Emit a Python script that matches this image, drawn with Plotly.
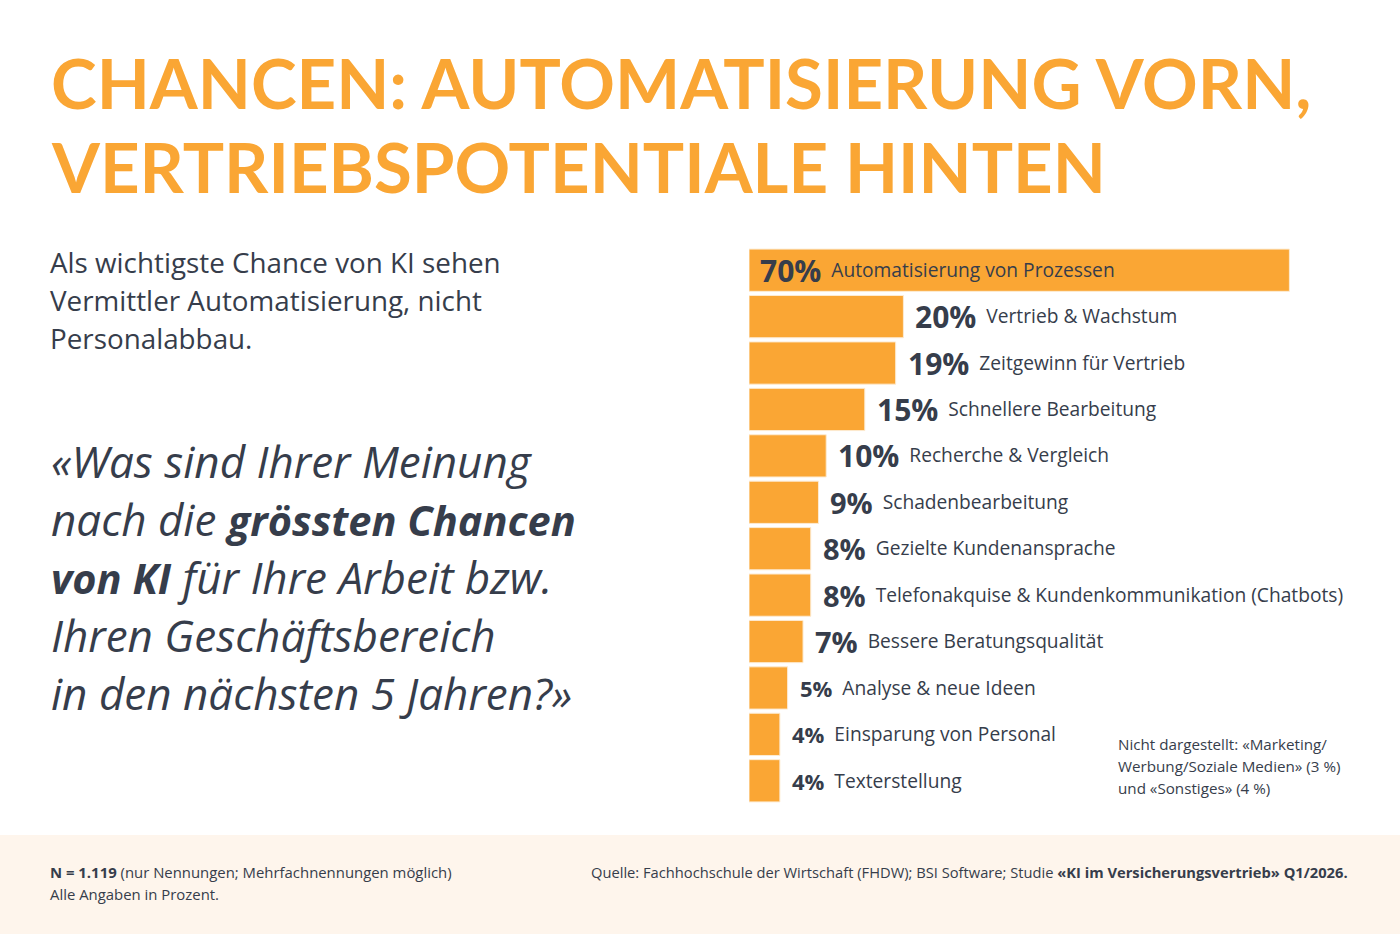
import plotly.graph_objects as go

# ---------------- data ----------------
categories = [
    "Automatisierung von Prozessen",
    "Vertrieb & Wachstum",
    "Zeitgewinn für Vertrieb",
    "Schnellere Bearbeitung",
    "Recherche & Vergleich",
    "Schadenbearbeitung",
    "Gezielte Kundenansprache",
    "Telefonakquise & Kundenkommunikation (Chatbots)",
    "Bessere Beratungsqualität",
    "Analyse & neue Ideen",
    "Einsparung von Personal",
    "Texterstellung",
]
values = [70, 20, 19, 15, 10, 9, 8, 8, 7, 5, 4, 4]

title_lines = ["CHANCEN: AUTOMATISIERUNG VORN,", "VERTRIEBSPOTENTIALE HINTEN"]
intro_lines = ["Als wichtigste Chance von KI sehen",
               "Vermittler Automatisierung, nicht",
               "Personalabbau."]
question_lines = ["«Was sind Ihrer Meinung",
                  "nach die <b>grössten Chancen</b>",
                  "<b>von KI</b> für Ihre Arbeit bzw.",
                  "Ihren Geschäftsbereich",
                  "in den nächsten 5 Jahren?»"]
note_lines = ["Nicht dargestellt: «Marketing/",
              "Werbung/Soziale Medien» (3 %)",
              "und «Sonstiges» (4 %)"]
footer_left = ["<b>N = 1.119</b> (nur Nennungen; Mehrfachnennungen möglich)",
               "Alle Angaben in Prozent."]
footer_right = "Quelle: Fachhochschule der Wirtschaft (FHDW); BSI Software; Studie <b>«KI im Versicherungsvertrieb» Q1/2026.</b>"

# ---------------- style ----------------
W, H = 1400, 934
ORANGE = "#FAA634"
DARK = "#363D4B"
TFONT = "Lato"
FONT = "Open Sans"

def py(px):
    return 1 - px / H

def px_x(px):
    return px / W

bar_left = 749
px_per_pct = 7.72
x_max = 80
bar_top, bar_bottom = 247, 804

fig = go.Figure()
fig.add_trace(go.Bar(
    x=values, y=categories, orientation="h",
    marker=dict(color=ORANGE, line=dict(color="#FDEBD2", width=1)),
    width=0.91, hoverinfo="skip",
))

fig.update_layout(
    width=W, height=H,
    margin=dict(l=0, r=0, t=0, b=0),
    paper_bgcolor="white", plot_bgcolor="rgba(0,0,0,0)",
    showlegend=False,
    font=dict(family=FONT, color=DARK),
    xaxis=dict(domain=[px_x(bar_left), px_x(bar_left + px_per_pct * x_max)],
               range=[0, x_max], visible=False, fixedrange=True),
    yaxis=dict(domain=[py(bar_bottom), py(bar_top)],
               autorange="reversed", visible=False, fixedrange=True,
               categoryorder="array", categoryarray=categories),
    bargap=0.09,
)

shapes = [dict(type="rect", xref="paper", yref="paper", x0=0, x1=1,
               y0=0, y1=py(835), fillcolor="#FEF5EC", line=dict(width=0),
               layer="below")]

ann = []
# title
for i, t in enumerate(title_lines):
    ann.append(dict(text=f"<b>{t}</b>", x=px_x(49), y=py(82 + 84 * i),
                    xref="paper", yref="paper", xanchor="left", yanchor="middle",
                    showarrow=False, font=dict(size=69, color=ORANGE, family=TFONT)))
# intro
for i, t in enumerate(intro_lines):
    ann.append(dict(text=t, x=px_x(48), y=py(262 + 38 * i),
                    xref="paper", yref="paper", xanchor="left", yanchor="middle",
                    showarrow=False, font=dict(size=27.8, color=DARK, family=FONT)))
# question
for i, t in enumerate(question_lines):
    t = t.replace("<b>", "<span style='font-size:41.5px'><b>").replace("</b>", "</b></span>")
    ann.append(dict(text=f"<i>{t}</i>", x=px_x(49), y=py(461 + 58 * i),
                    xref="paper", yref="paper", xanchor="left", yanchor="middle",
                    showarrow=False, font=dict(size=44, color=DARK, family=FONT)))
# note
for i, t in enumerate(note_lines):
    ann.append(dict(text=t, x=px_x(1116), y=py(744 + 22 * i),
                    xref="paper", yref="paper", xanchor="left", yanchor="middle",
                    showarrow=False, font=dict(size=15.2, color=DARK, family=FONT)))
# footer
for i, t in enumerate(footer_left):
    ann.append(dict(text=t, x=px_x(48), y=py(872 + 22 * i),
                    xref="paper", yref="paper", xanchor="left", yanchor="middle",
                    showarrow=False, font=dict(size=14.9, color=DARK, family=FONT)))
ann.append(dict(text=footer_right, x=px_x(1350), y=py(872),
                xref="paper", yref="paper", xanchor="right", yanchor="middle",
                showarrow=False, font=dict(size=14.7, color=DARK, family=FONT)))

# bar labels
LABEL_SIZE = 19.2

def pct_size(v):
    if v >= 10:
        return 30
    if v >= 7:
        return 29
    return 22

for c, v in zip(categories, values):
    inside = v >= 50
    ps = pct_size(v)
    shift = round(0.36 * (ps - LABEL_SIZE) + 1.3, 1)
    txt = (f"<span style='font-size:{ps}px'><b>{v}%</b></span>"
           f"<span style='font-size:{LABEL_SIZE}px;baseline-shift:{shift}px'>  {c}</span>")
    ann.append(dict(text=txt, x=0 if inside else v, y=c, xref="x", yref="y",
                    xanchor="left", yanchor="middle", xshift=9 if inside else 10,
                    yshift=0, showarrow=False, font=dict(color=DARK, family=FONT)))

fig.update_layout(shapes=shapes, annotations=ann)
fig.write_html("out.html", config={"displayModeBar": False})
